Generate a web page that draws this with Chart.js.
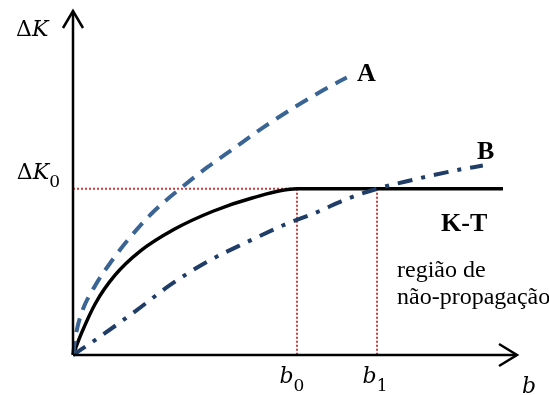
<!DOCTYPE html>
<html>
<head>
<meta charset="utf-8">
<script src="https://cdn.jsdelivr.net/npm/chart.js@4"></script>
<style>
  html, body { margin: 0; padding: 0; background: #ffffff; }
  #wrap { width: 549px; height: 395px; }
</style>
</head>
<body>
<div id="wrap"><canvas id="c" width="549" height="395"></canvas></div>
<script>
// Crack length b (horizontal) versus stress intensity range ΔK (vertical)
const curveAx = [0, 0.05, 0.15, 0.4, 0.7, 1.0, 1.4, 1.91, 2.4, 2.9, 3.4, 3.95, 4.45, 4.89];
const curveAy = [0, 0.12, 0.25, 0.42, 0.57, 0.70, 0.85, 1.0, 1.13, 1.25, 1.37, 1.49, 1.59, 1.67];

const curveBx = [0, 0.48, 1.14, 1.73, 2.39, 3.11, 3.82, 4.36, 4.9, 5.43, 6.02, 6.82, 7.32];
const curveBy = [0, 0.11, 0.27, 0.42, 0.56, 0.68, 0.79, 0.86, 0.94, 1.0, 1.05, 1.11, 1.14];

const curveKTx = [0, 0.15, 0.4, 0.75, 1.2, 1.8, 2.5, 3.2, 4.0, 4.6, 7.68];
const curveKTy = [0, 0.13, 0.31, 0.48, 0.625, 0.755, 0.865, 0.945, 1.0, 1.0, 1.0];

// Reference values
const deltaK0 = 1.0;
const b0 = 4.0;
const b1 = 5.43;

// Axis extents (arrow tips)
const axisXMax = 7.93;
const axisYMax = 2.07;

const toPoints = (xs, ys) => xs.map((x, i) => ({ x, y: ys[i] }));

const RED = '#cc3b3b';
const BLUE_A = '#3a6494';
const BLUE_B = '#1f3d66';

function mathText(ctx, parts, x, y, align) {
  // parts: [{t, italic, sub}]
  const base = 22;
  let w = 0;
  const fonts = parts.map(p => {
    const size = p.sub ? 17 : base;
    const f = (p.italic ? 'italic ' : '') + size + 'px "DejaVu Serif"';
    ctx.font = f;
    const m = ctx.measureText(p.t).width;
    w += m;
    return { f, m };
  });
  let cx = align === 'right' ? x - w : align === 'center' ? x - w / 2 : x;
  parts.forEach((p, i) => {
    ctx.font = fonts[i].f;
    ctx.fillText(p.t, cx, p.sub ? y + 8 : y);
    cx += fonts[i].m;
  });
}

const diagram = {
  id: 'diagram',
  beforeDatasetsDraw(chart) {
    const { ctx, scales: { x, y } } = chart;
    const x0 = x.getPixelForValue(0), y0 = y.getPixelForValue(0);
    const yk = y.getPixelForValue(deltaK0);
    const xb0 = x.getPixelForValue(b0), xb1 = x.getPixelForValue(b1);
    ctx.save();
    ctx.strokeStyle = RED;
    ctx.lineWidth = 2;
    ctx.setLineDash([2, 2]);
    ctx.beginPath();
    ctx.moveTo(x0, yk); ctx.lineTo(xb0, yk);
    ctx.moveTo(xb0, yk); ctx.lineTo(xb0, y0);
    ctx.moveTo(xb1, yk); ctx.lineTo(xb1, y0);
    ctx.stroke();
    ctx.restore();
  },
  afterDatasetsDraw(chart) {
    const { ctx, scales: { x, y } } = chart;
    const x0 = x.getPixelForValue(0), y0 = y.getPixelForValue(0);
    const xe = x.getPixelForValue(axisXMax), ye = y.getPixelForValue(axisYMax);
    ctx.save();
    ctx.strokeStyle = '#000';
    ctx.lineWidth = 2.5;
    ctx.setLineDash([]);
    ctx.lineCap = 'butt';
    ctx.beginPath();
    ctx.moveTo(x0, y0); ctx.lineTo(x0, ye);
    ctx.moveTo(x0, y0); ctx.lineTo(xe, y0);
    ctx.stroke();
    // arrow heads
    ctx.lineJoin = 'miter';
    ctx.beginPath();
    ctx.moveTo(x0 - 10, ye + 17); ctx.lineTo(x0, ye); ctx.lineTo(x0 + 10, ye + 17);
    ctx.moveTo(xe - 18, y0 - 11); ctx.lineTo(xe, y0); ctx.lineTo(xe - 18, y0 + 11);
    ctx.stroke();

    // labels
    ctx.fillStyle = '#000';
    ctx.textBaseline = 'alphabetic';
    mathText(ctx, [{ t: 'Δ' }, { t: 'K', italic: true }], 16, 36, 'left');
    mathText(ctx, [{ t: 'Δ' }, { t: 'K', italic: true }, { t: '0', sub: true }], 60, y.getPixelForValue(deltaK0) - 10, 'right');
    mathText(ctx, [{ t: 'b', italic: true }, { t: '0', sub: true }], x.getPixelForValue(b0) - 5, y0 + 28, 'center');
    mathText(ctx, [{ t: 'b', italic: true }, { t: '1', sub: true }], x.getPixelForValue(b1) - 2, y0 + 28, 'center');
    mathText(ctx, [{ t: 'b', italic: true }], 522, y0 + 38, 'left');

    ctx.font = 'bold 26px "Liberation Serif"';
    ctx.fillText('A', 357, 81);
    ctx.fillText('B', 477, 159);
    ctx.fillText('K-T', 441, 231);

    ctx.font = '24px "Liberation Serif"';
    ctx.fillText('região de', 397, 277);
    ctx.fillText('não-propagação', 397, 304);
    ctx.restore();
  }
};

new Chart(document.getElementById('c'), {
  type: 'line',
  data: {
    datasets: [
      {
        label: 'A',
        data: toPoints(curveAx, curveAy),
        borderColor: BLUE_A,
        borderWidth: 4,
        borderDash: [14, 9],
        cubicInterpolationMode: 'monotone',
        pointRadius: 0,
        fill: false,
        clip: false
      },
      {
        label: 'B',
        data: toPoints(curveBx, curveBy),
        borderColor: BLUE_B,
        borderWidth: 4,
        borderDash: [15, 9, 4, 9],
        cubicInterpolationMode: 'monotone',
        pointRadius: 0,
        fill: false,
        clip: false
      },
      {
        label: 'K-T',
        data: toPoints(curveKTx, curveKTy),
        borderColor: '#000000',
        borderWidth: 3.5,
        cubicInterpolationMode: 'monotone',
        pointRadius: 0,
        fill: false,
        clip: false
      }
    ]
  },
  options: {
    responsive: false,
    animation: false,
    layout: { padding: { left: 73, right: 32, top: 11, bottom: 40 } },
    plugins: { legend: { display: false }, tooltip: { enabled: false } },
    scales: {
      x: { type: 'linear', min: 0, max: axisXMax, display: false },
      y: { type: 'linear', min: 0, max: axisYMax, display: false }
    }
  },
  plugins: [diagram]
});
</script>
</body>
</html>
